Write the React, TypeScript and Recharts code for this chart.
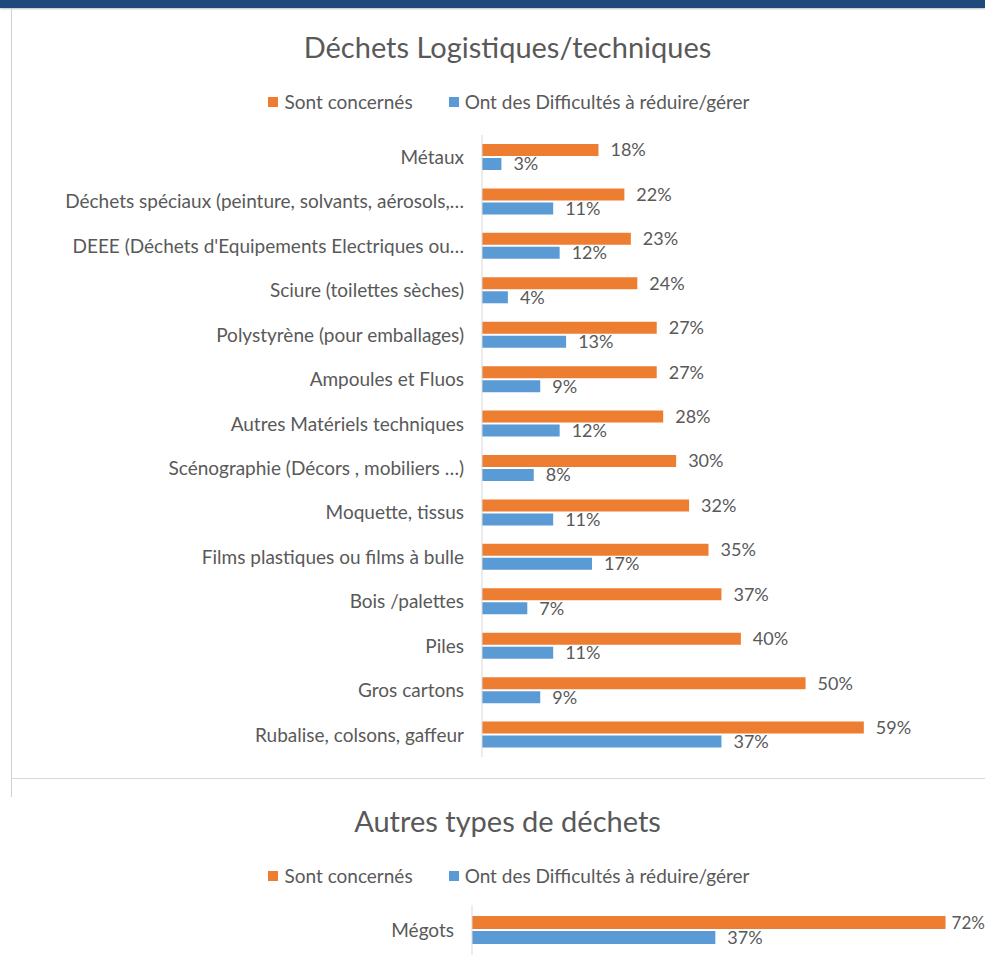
import { BarChart, Bar, XAxis, YAxis, Legend, LabelList } from 'recharts';

const categories = [
  'Métaux',
  'Déchets spéciaux (peinture, solvants, aérosols,…',
  "DEEE (Déchets d'Equipements Electriques ou…",
  'Sciure (toilettes sèches)',
  'Polystyrène (pour emballages)',
  'Ampoules et Fluos',
  'Autres Matériels techniques',
  'Scénographie (Décors , mobiliers …)',
  'Moquette, tissus',
  'Films plastiques ou films à bulle',
  'Bois /palettes',
  'Piles',
  'Gros cartons',
  'Rubalise, colsons, gaffeur',
];
const concernes = [18, 22, 23, 24, 27, 27, 28, 30, 32, 35, 37, 40, 50, 59];
const difficultes = [3, 11, 12, 4, 13, 9, 12, 8, 11, 17, 7, 11, 9, 37];

const autresCategories = ['Mégots'];
const autresConcernes = [72];
const autresDifficultes = [37];

const seriesNames = ['Sont concernés', 'Ont des Difficultés à réduire/gérer'];

const ORANGE = '#ED7D31';
const BLUE = '#5B9BD5';
const TEXT = '#595959';
const FONT = 'Lato, "Open Sans", sans-serif';

const logistique = categories.map((name, i) => ({
  name,
  concernes: concernes[i],
  difficultes: difficultes[i],
}));

const autres = autresCategories.map((name, i) => ({
  name,
  concernes: autresConcernes[i],
  difficultes: autresDifficultes[i],
}));

const pct = (v: any) => `${v}%`;

function renderLegend(props: any) {
  const items = [...(props.payload || [])].sort(
    (a: any, b: any) => seriesNames.indexOf(a.value) - seriesNames.indexOf(b.value)
  );
  return (
    <div style={{ display: 'flex', justifyContent: 'center', paddingLeft: 33, fontFamily: FONT, fontSize: 19, color: TEXT }}>
      {items.map((it: any, i: number) => (
        <div key={i} style={{ display: 'flex', alignItems: 'center', marginRight: i === 0 ? 36 : 0 }}>
          <span style={{ width: 10, height: 10, background: it.color, marginRight: 6, display: 'inline-block' }} />
          <span>{it.value}</span>
        </div>
      ))}
    </div>
  );
}

const titleStyle = (top: number): React.CSSProperties => ({
  position: 'absolute',
  top,
  left: 15,
  width: 985,
  textAlign: 'center',
  fontFamily: FONT,
  fontSize: 29,
  color: TEXT,
});

// zero-height wrapper so the legend does not push the plot area down
const legendWrap = (top: number): React.CSSProperties => ({
  top,
  left: 0,
  width: 985,
  height: 0,
  overflow: 'visible',
});

export default function App() {
  return (
    <div style={{ position: 'absolute', left: 0, top: 0, width: 985, height: 969, overflow: 'hidden', background: '#fff' }}>
      <div style={{ position: 'absolute', left: 0, top: 0, width: 985, height: 8, background: '#1F497D', boxShadow: '0 1px 2px rgba(0,0,0,0.25)' }} />
      <div style={{ position: 'absolute', left: 11, top: 8, width: 1, height: 789, background: '#d0d0d0' }} />
      <div style={{ position: 'absolute', left: 11, top: 778, width: 974, height: 1, background: '#d9d9d9' }} />

      <div style={titleStyle(29)}>Déchets Logistiques/techniques</div>
      <div style={{ position: 'absolute', left: 0, top: 0 }}>
        <BarChart
          width={985}
          height={760}
          layout="vertical"
          data={logistique}
          margin={{ top: 135, right: 50, bottom: 3, left: 0 }}
          barSize={12}
          barGap={2}
        >
          <XAxis type="number" domain={[0, 70]} hide />
          <YAxis
            type="category"
            dataKey="name"
            width={482}
            tickLine={false}
            tickSize={0}
            tickMargin={18}
            axisLine={{ stroke: '#d9d9d9' }}
            tick={{ fill: TEXT, fontSize: 19, fontFamily: FONT }}
            interval={0}
          />
          <Legend verticalAlign="top" content={renderLegend} wrapperStyle={legendWrap(90)} />
          <Bar dataKey="concernes" name={seriesNames[0]} fill={ORANGE} isAnimationActive={false}>
            <LabelList dataKey="concernes" position="right" offset={12} formatter={pct} fill={TEXT} fontSize={18} fontFamily={FONT} />
          </Bar>
          <Bar dataKey="difficultes" name={seriesNames[1]} fill={BLUE} isAnimationActive={false}>
            <LabelList dataKey="difficultes" position="right" offset={12} formatter={pct} fill={TEXT} fontSize={18} fontFamily={FONT} />
          </Bar>
        </BarChart>
      </div>

      <div style={titleStyle(803)}>Autres types de déchets</div>
      <div style={{ position: 'absolute', left: 0, top: 780 }}>
        <BarChart
          width={985}
          height={176}
          layout="vertical"
          data={autres}
          margin={{ top: 125, right: 0, bottom: 1, left: 0 }}
          barSize={13}
          barGap={2}
        >
          <XAxis type="number" domain={[0, 78]} hide />
          <YAxis
            type="category"
            dataKey="name"
            width={472}
            tickLine={false}
            tickSize={0}
            tickMargin={18}
            axisLine={{ stroke: '#d9d9d9' }}
            tick={{ fill: TEXT, fontSize: 19, fontFamily: FONT }}
          />
          <Legend verticalAlign="top" content={renderLegend} wrapperStyle={legendWrap(84)} />
          <Bar dataKey="concernes" name={seriesNames[0]} fill={ORANGE} isAnimationActive={false}>
            <LabelList dataKey="concernes" position="right" offset={6} formatter={pct} fill={TEXT} fontSize={17} fontFamily={FONT} />
          </Bar>
          <Bar dataKey="difficultes" name={seriesNames[1]} fill={BLUE} isAnimationActive={false}>
            <LabelList dataKey="difficultes" position="right" offset={12} formatter={pct} fill={TEXT} fontSize={18} fontFamily={FONT} />
          </Bar>
        </BarChart>
      </div>
    </div>
  );
}
